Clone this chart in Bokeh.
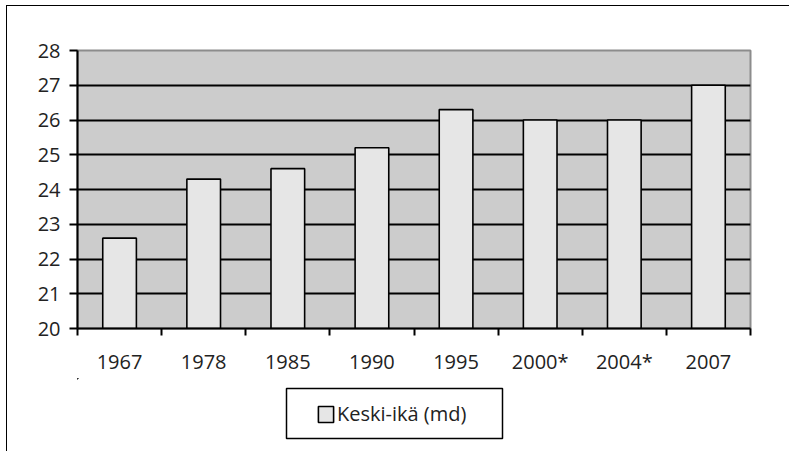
from bokeh.plotting import figure
from bokeh.layouts import column
from bokeh.models import (Range1d, FixedTicker, Legend, LegendItem, ColumnDataSource,
                          BoxAnnotation)
from bokeh.embed import file_html
from bokeh.resources import INLINE

years = ["1967", "1978", "1985", "1990", "1995", "2000*", "2004*", "2007"]
values = [22.6, 24.3, 24.6, 25.2, 26.3, 26.0, 26.0, 27.0]
y_ticks = [20, 21, 22, 23, 24, 25, 26, 27, 28]
series_name = "Keski-ikä (md)"

FONT = "Open Sans"
FS = "20px"
BAR_FILL = "#e6e6e6"

xs = [i + 0.5 for i in range(len(years))]
src = ColumnDataSource(dict(x=xs, top=values, year=years))

# ---------------- main chart ----------------
p = figure(width=782, height=372, output_backend="svg", toolbar_location=None,
           x_range=Range1d(0, len(years)), y_range=Range1d(y_ticks[0], y_ticks[-1]),
           min_border_left=70, min_border_right=39, min_border_top=44,
           min_border_bottom=50)
p.background_fill_color = "#cccccc"
p.border_fill_color = "white"
p.outline_line_color = "#8c8c8c"
p.outline_line_width = 2

r = p.vbar(x="x", top="top", bottom=y_ticks[0], width=0.4, source=src,
           fill_color=BAR_FILL, line_color="black", line_width=1.6)

yax = p.yaxis[0]
yax.ticker = FixedTicker(ticks=y_ticks)
yax.axis_line_color = "black"
yax.axis_line_width = 2
yax.major_tick_line_color = "black"
yax.major_tick_line_width = 2
yax.major_tick_in = 0
yax.major_tick_out = 8
yax.minor_tick_line_color = None
yax.major_label_standoff = 9
yax.major_label_text_font = FONT
yax.major_label_text_font_size = FS
yax.major_label_text_color = "#222222"

xax = p.xaxis[0]
xax.ticker = FixedTicker(ticks=xs, minor_ticks=list(range(len(years) + 1)))
xax.major_label_overrides = {x: y for x, y in zip(xs, years)}
xax.axis_line_color = "black"
xax.axis_line_width = 2
xax.major_tick_line_color = None
xax.major_tick_in = 0
xax.major_tick_out = 7
xax.minor_tick_line_color = "black"
xax.minor_tick_line_width = 2
xax.minor_tick_in = 0
xax.minor_tick_out = 7
xax.major_label_standoff = 12
xax.major_label_text_font = FONT
xax.major_label_text_font_size = FS
xax.major_label_text_color = "#222222"

p.xgrid.grid_line_color = None
p.ygrid.ticker = FixedTicker(ticks=y_ticks)
p.ygrid.grid_line_color = "black"
p.ygrid.grid_line_width = 2

# ---------------- legend strip ----------------
# (its frame is aligned with the main chart's frame by the column layout)
# Ranges chosen so the series lies entirely outside this strip's view.
p2 = figure(width=782, height=73, output_backend="svg", toolbar_location=None,
            x_range=Range1d(100, 100 + len(years)), y_range=Range1d(0, 1),
            x_axis_location=None, y_axis_location=None,
            min_border_left=0, min_border_right=0, min_border_top=0,
            min_border_bottom=0)
p2.grid.visible = False
p2.outline_line_color = None
p2.background_fill_color = "white"
p2.border_fill_color = "white"

r2 = p2.vbar(x="x", top="top", bottom=y_ticks[0], width=0.4, source=src,
             fill_color=BAR_FILL, line_color="black", line_width=1.6)

legend = Legend(items=[LegendItem(label=series_name, renderers=[r2])],
                location=(239, 24), padding=0, margin=0,
                glyph_width=19, glyph_height=20, label_standoff=2,
                label_text_font=FONT, label_text_font_size=FS,
                label_text_color="#222222",
                border_line_color=None, background_fill_alpha=0)
p2.add_layout(legend, "center")

legend_box = BoxAnnotation(left=209, right=425, top=63, bottom=13,
                           left_units="screen", right_units="screen",
                           top_units="screen", bottom_units="screen",
                           fill_alpha=0, line_color="black", line_alpha=1.0,
                           line_width=1.5)
p2.add_layout(legend_box)

layout = column(p, p2, spacing=0,
                styles={"margin-left": "6px", "margin-top": "5px",
                        "border-top": "1px solid black",
                        "border-left": "1px solid black"})

open("out.html", "w").write(file_html(layout, INLINE))
